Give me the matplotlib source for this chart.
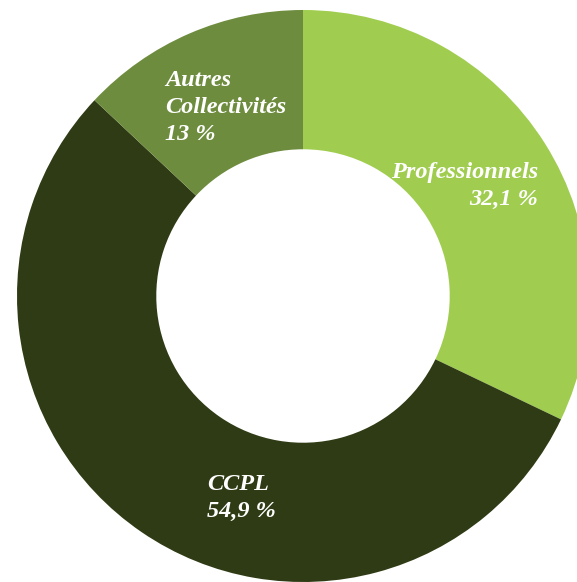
import matplotlib
matplotlib.use("Agg")
import matplotlib.pyplot as plt

categories = ["Professionnels", "CCPL", "Autres\nCollectivités"]
values = [32.1, 54.9, 13.0]
value_labels = ["32,1 %", "54,9 %", "13 %"]
colors = ["#A0CD50", "#2E3B14", "#6E8C3E"]

W, H = 577, 582
cx, cy, R = 303, 296, 286

fig = plt.figure(figsize=(W / 100, H / 100), dpi=100)
ax = fig.add_axes([0, 0, 1, 1])
ax.pie(values, colors=colors, startangle=90, counterclock=False, radius=1,
       wedgeprops=dict(width=0.487, edgecolor="none"))
ax.set_xlim(-cx / R, (W - cx) / R)
ax.set_ylim(-(H - cy) / R, cy / R)
ax.set_aspect("auto")
ax.axis("off")

def px(x, y):
    return (x - cx) / R, (cy - y) / R

font = dict(family="Liberation Serif", weight="bold", style="italic",
            color="white", fontsize=17.5, linespacing=1.38)

x, y = px(538, 162)
ax.text(x, y, categories[0] + "\n" + value_labels[0], ha="right", va="top",
        multialignment="right", **font)
x, y = px(207, 474)
ax.text(x, y, categories[1] + "\n" + value_labels[1], ha="left", va="top",
        multialignment="left", **font)
x, y = px(165, 70)
ax.text(x, y, categories[2] + "\n" + value_labels[2], ha="left", va="top",
        multialignment="left", **font)

fig.savefig("out.png", dpi=100, facecolor="white")
